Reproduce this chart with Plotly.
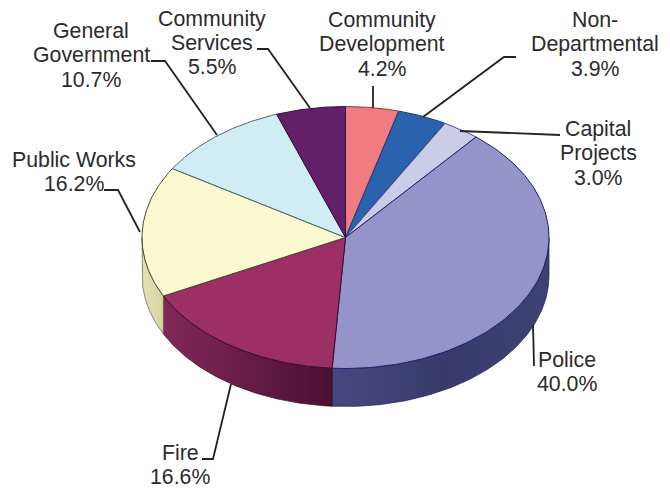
import numpy as np
import plotly.graph_objects as go

# Budget shares, clockwise from twelve o'clock
categories = ["Community<br>Development", "Non-<br>Departmental", "Capital<br>Projects", "Police",
              "Fire", "Public Works", "General<br>Government", "Community<br>Services"]
shares = [4.2, 3.9, 3.0, 40.0, 16.6, 16.2, 10.7, 5.5]
top_colors = ["#f07b80", "#2a62ae", "#cbcce6", "#9594ca", "#9c2f66", "#fbf9cf", "#d0ecf4", "#641f69"]
edge_colors = ["#8a3a48", "#123f80", "#4a4a90", "#1c1c6e", "#3a0a2a", "#4a4a30", "#4a6a70", "#30103a"]
wall_ramps = {
    3: [[0, "#47477f"], [0.5, "#3a3b6c"], [1, "#3f4074"]],
    4: [[0, "#822858"], [1, "#4a1132"]],
    5: [[0, "#e4e2b4"], [1, "#d6d4a0"]],
}
wall_edges = {3: "#1c1c50", 4: "#30081f", 5: "#5a5a40"}

# Label position (centre x, first line y) and leader polylines in page pixels
label_xy = [(382, 20), (595, 20), (598, 129), (567, 360), (180, 453), (74, 160), (91, 31), (212, 18.5)]
leaders = [
    [(373, 86), (373, 108)],
    [(516, 57), (504, 57), (423, 117)],
    [(560, 135), (460, 131)],
    [(534, 366), (533, 325)],
    [(202, 459), (213, 459), (231, 384)],
    [(104, 190), (118, 190), (140, 232)],
    [(151, 61), (165, 61), (217, 135)],
    [(257, 49), (268, 49), (310, 108)],
]

CX, CY, RX, RY, DEPTH = 345.5, 237.5, 203.5, 131, 38
LINE_STEP = 24.3
FONT = "Liberation Sans, Arial, sans-serif"
INK = "#2b2b2b"


def rim(a, b, n=120, drop=0.0):
    t = np.radians(np.linspace(a, b, n))
    return CX + RX * np.sin(t), CY - RY * np.cos(t) + drop


edges = np.concatenate([[0], np.cumsum(shares)]) / sum(shares) * 360
fig = go.Figure()

# Side walls: only the front half of the disc is visible
for i, (a, b) in enumerate(zip(edges[:-1], edges[1:])):
    lo, hi = max(a, 90), min(b, 270)
    if hi <= lo or i not in wall_ramps:
        continue
    tx, ty = rim(lo, hi)
    bx, by = rim(hi, lo, drop=DEPTH)
    xs = np.concatenate([tx, bx, tx[:1]])
    ys = np.concatenate([ty, by, ty[:1]])
    fig.add_trace(go.Scatter(
        x=xs, y=ys, mode="lines", fill="toself",
        line=dict(color=wall_edges[i], width=0.7),
        fillgradient=dict(type="horizontal", colorscale=wall_ramps[i],
                          start=float(xs.min()), stop=float(xs.max())),
        hoverinfo="skip", showlegend=False,
    ))

# Top face wedges
for i, (a, b) in enumerate(zip(edges[:-1], edges[1:])):
    ax, ay = rim(a, b)
    fig.add_trace(go.Scatter(
        x=np.concatenate([[CX], ax, [CX]]), y=np.concatenate([[CY], ay, [CY]]),
        mode="lines", fill="toself", fillcolor=top_colors[i],
        line=dict(color=edge_colors[i], width=1),
        hoverinfo="skip", showlegend=False,
    ))

# Leader lines
for path in leaders:
    fig.add_trace(go.Scatter(
        x=[p[0] for p in path], y=[p[1] for p in path], mode="lines",
        line=dict(color="#222222", width=1.8), hoverinfo="skip", showlegend=False,
    ))

# One annotation per text line keeps the leading tighter than plotly's default
annotations = []
for name, val, (x, y0) in zip(categories, shares, label_xy):
    for k, line in enumerate(name.split("<br>") + [f"{val:.1f}%"]):
        annotations.append(dict(x=x, y=y0 + k * LINE_STEP, text=line, showarrow=False,
                                xanchor="center", yanchor="middle"))
# Tail of a label cut off by the page edge
annotations.append(dict(x=-1, y=340, text="el", showarrow=False, xanchor="left", yanchor="middle"))

fig.update_layout(
    width=670, height=488, margin=dict(l=0, r=0, t=0, b=0),
    paper_bgcolor="white", plot_bgcolor="white", showlegend=False,
    xaxis=dict(range=[0, 670], visible=False, fixedrange=True),
    yaxis=dict(range=[488, 0], visible=False, fixedrange=True),
    font=dict(family=FONT, size=21.3, color=INK),
    annotations=annotations,
)
fig.write_html("out.html", config=dict(displayModeBar=False))
